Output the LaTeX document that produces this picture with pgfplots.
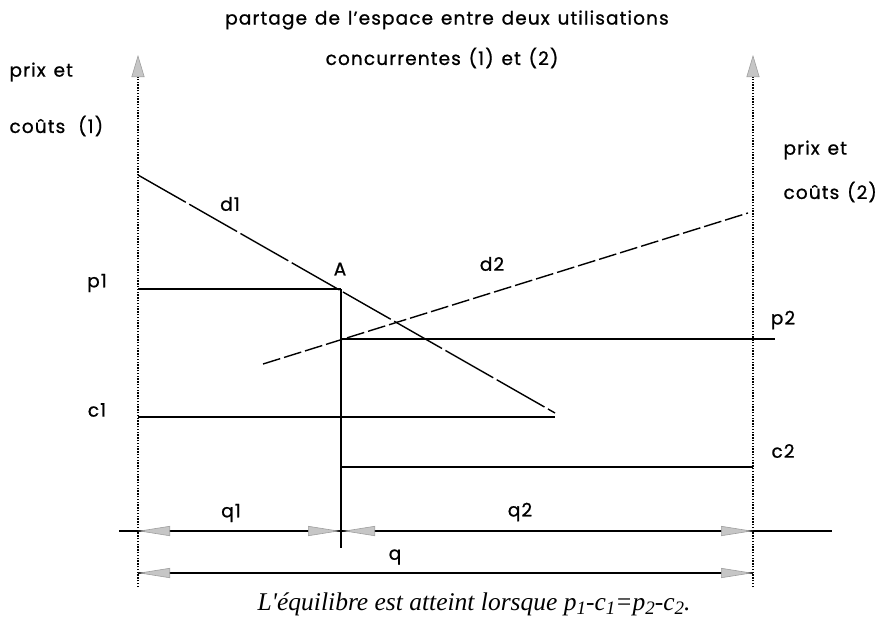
\documentclass[border=0pt]{standalone}
\usepackage{fontspec}
\setmainfont{Poppins}[FakeBold=0.9, LetterSpace=6, WordSpace=1.3]
\newfontfamily\capfont{Liberation Serif}
\usepackage{pgfplots}
\pgfplotsset{compat=1.18}
\usetikzlibrary{arrows.meta}
\newcommand{\sub}[1]{\raisebox{-0.4ex}{\fontsize{19}{19}\selectfont #1}}
\begin{document}
\begin{tikzpicture}[
  lbl/.style={font=\fontsize{18.5}{22}\selectfont},
  axdot/.style={dash pattern=on 1.4pt off 1.4pt, line width=1.5pt},
  uparr/.style={-{Triangle[length=22pt,width=13pt,fill=gray!45,color=gray!75,line width=0.6pt]}},
  harr/.style={-{Triangle[length=32pt,width=10pt,fill=gray!45,color=gray!75,line width=0.6pt]}}]
\begin{axis}[hide axis, scale only axis, width=890pt, height=625pt,
  xmin=0, xmax=890, ymin=0, ymax=625, y dir=reverse, clip=false]
\path (axis cs:0,0) rectangle (axis cs:890,625);
% vertical axes
\addplot[axdot, uparr] coordinates {(138,587) (138,55)};
\addplot[axdot, uparr] coordinates {(753,587) (753,55)};
% demand curves
\addplot[dash pattern=on 55pt off 4pt, line width=1.4pt] coordinates {(138,175) (555,413)};
\addplot[dash pattern=on 18pt off 4pt, line width=1.4pt] coordinates {(263,364) (748,213)};
% price and cost levels
\addplot[line width=1.4pt] coordinates {(138,289) (341,289)};
\addplot[line width=1.2pt] coordinates {(341,339) (775,339)};
\addplot[line width=1.2pt] coordinates {(138,417) (555,417)};
\addplot[line width=1.2pt] coordinates {(341,467) (753,467)};
% vertical through A
\addplot[line width=1.7pt] coordinates {(341,289) (341,548)};
% quantity lines
\addplot[line width=1.1pt] coordinates {(119,531) (832,531)};
\addplot[line width=1.1pt] coordinates {(138,573) (753,573)};
\addplot[harr] coordinates {(176,531) (138,531)};
\addplot[harr] coordinates {(300,531) (340,531)};
\addplot[harr] coordinates {(382,531) (343,531)};
\addplot[harr] coordinates {(713,531) (753,531)};
\addplot[harr] coordinates {(176,573) (138,573)};
\addplot[harr] coordinates {(713,573) (753,573)};
% labels
\node[lbl] at (axis cs:447,20) {partage de l'espace entre deux utilisations};
\node[lbl] at (axis cs:442,58) {concurrentes (1) et (2)};
\node[lbl, anchor=west] at (axis cs:6,72) {prix et};
\node[lbl, anchor=west] at (axis cs:6,126) {coûts\hspace{0.7em}(1)};
\node[lbl, anchor=west] at (axis cs:780,150) {prix et};
\node[lbl, anchor=west] at (axis cs:780,192) {coûts (2)};
\node[lbl] at (axis cs:230,204) {d1};
\node[lbl] at (axis cs:492,264) {d2};
\node[lbl] at (axis cs:340,269) {A};
\node[lbl] at (axis cs:97,283) {p1};
\node[lbl] at (axis cs:783,320) {p2};
\node[lbl] at (axis cs:97,410) {c1};
\node[lbl] at (axis cs:783,451) {c2};
\node[lbl] at (axis cs:231,513) {q1};
\node[lbl] at (axis cs:520,512) {q2};
\node[lbl] at (axis cs:395,557) {q};
\node[font=\capfont\itshape\fontsize{25.5}{30}\selectfont] at (axis cs:474,604)
  {L'équilibre est atteint lorsque p\sub{1}-c\sub{1}=p\sub{2}-c\sub{2}.};
\end{axis}
\end{tikzpicture}
\end{document}
